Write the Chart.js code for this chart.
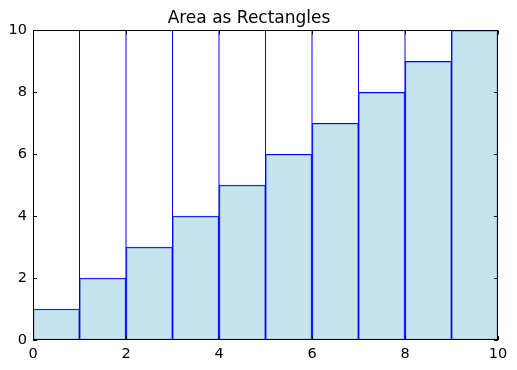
<!DOCTYPE html>
<html>
<head>
<meta charset="utf-8">
<script src="https://cdn.jsdelivr.net/npm/chart.js@4/dist/chart.umd.min.js"></script>
<style>
  html, body { margin: 0; padding: 0; background: #fff; }
  #wrap { width: 517px; height: 370px; }
</style>
</head>
<body>
<div id="wrap"><canvas id="chart" width="517" height="370"></canvas></div>
<script>
// rectangles: left edge, width 1, height
const rectLeft = [0, 1, 2, 3, 4, 5, 6, 7, 8, 9];
const rectHeight = [1, 2, 3, 4, 5, 6, 7, 8, 9, 10];
// full-height separator lines
const lineX = [1, 2, 3, 4, 5, 6, 7, 8, 9];
const xTicks = [0, 2, 4, 6, 8, 10];
const yTicks = [0, 2, 4, 6, 8, 10];

const FONT = "'DejaVu Sans', sans-serif";

// matplotlib classic look: black frame and inward ticks on all four sides
const framePlugin = {
  id: "frame",
  afterDraw(chart) {
    const ctx = chart.ctx;
    const a = chart.chartArea;
    const xs = chart.scales.x, ys = chart.scales.y;
    ctx.save();
    ctx.strokeStyle = "#000";
    ctx.lineWidth = 1;
    ctx.strokeRect(Math.round(a.left) + 0.5, Math.round(a.top) + 0.5,
      Math.round(a.right - a.left) - 1, Math.round(a.bottom - a.top) - 1);
    ctx.beginPath();
    xTicks.forEach(v => {
      const px = Math.round(xs.getPixelForValue(v)) + 0.5;
      ctx.moveTo(px, a.bottom); ctx.lineTo(px, a.bottom - 4);
      ctx.moveTo(px, a.top); ctx.lineTo(px, a.top + 4);
    });
    yTicks.forEach(v => {
      const py = Math.round(ys.getPixelForValue(v)) + 0.5;
      ctx.moveTo(a.left, py); ctx.lineTo(a.left + 4, py);
      ctx.moveTo(a.right, py); ctx.lineTo(a.right - 4, py);
    });
    ctx.stroke();
    ctx.restore();
  }
};

const datasets = [{
  type: "bar",
  data: rectLeft.map((x, i) => ({ x: x + 0.5, y: rectHeight[i] })),
  backgroundColor: "rgba(173,216,230,0.7)",
  borderColor: "#0000ff",
  borderWidth: 1,
  borderSkipped: false,
  barPercentage: 1,
  categoryPercentage: 1,
  grouped: false,
  order: 2
}];

lineX.forEach(x => {
  datasets.push({
    type: "line",
    data: [{ x: x, y: 0 }, { x: x, y: 10 }],
    borderColor: "#0000ff",
    borderWidth: 1,
    pointRadius: 0,
    fill: false,
    order: 1
  });
});

new Chart(document.getElementById("chart"), {
  data: { datasets },
  options: {
    responsive: false,
    animation: false,
    layout: { padding: { left: 0, right: 19, top: 0, bottom: 0 } },
    plugins: {
      legend: { display: false },
      tooltip: { enabled: false },
      title: {
        display: true,
        text: "Area as Rectangles",
        color: "#000",
        font: { family: FONT, size: 17, weight: "normal" },
        padding: { top: 8, bottom: 2 }
      }
    },
    scales: {
      x: {
        type: "linear",
        min: 0, max: 10,
        offset: false,
        grid: { display: false, drawTicks: false, offset: false },
        border: { display: false },
        afterBuildTicks: s => { s.ticks = xTicks.map(v => ({ value: v })); },
        afterFit: s => { s.height = 30; },
        ticks: { color: "#000", padding: 6, font: { family: FONT, size: 14.5 }, maxRotation: 0 }
      },
      y: {
        min: 0, max: 10,
        grid: { display: false, drawTicks: false },
        border: { display: false },
        afterBuildTicks: s => { s.ticks = yTicks.map(v => ({ value: v })); },
        afterFit: s => { s.width = 33; },
        ticks: { color: "#000", padding: 6, font: { family: FONT, size: 14.5 } }
      }
    }
  },
  plugins: [framePlugin]
});
</script>
</body>
</html>
